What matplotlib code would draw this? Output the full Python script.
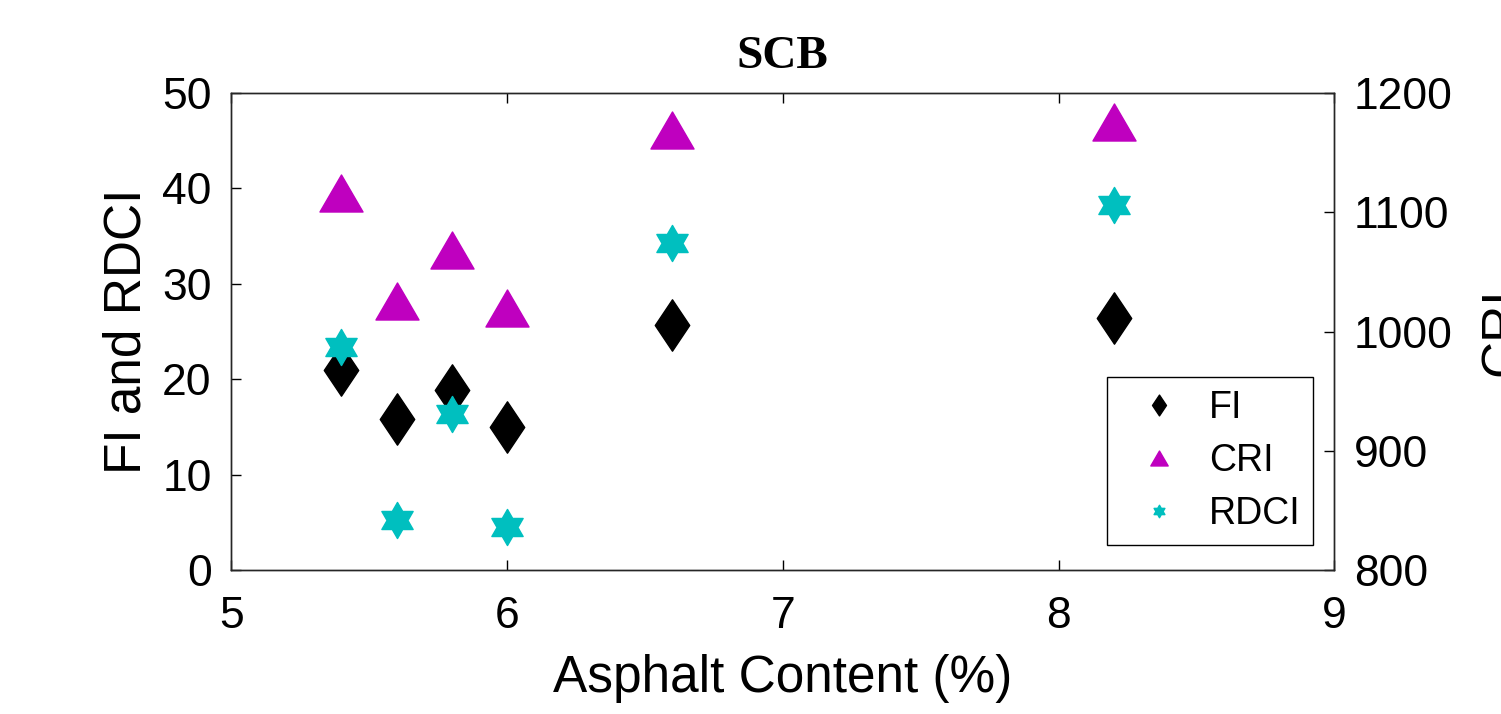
import matplotlib
matplotlib.use("Agg")
import matplotlib.pyplot as plt
from matplotlib.lines import Line2D
from matplotlib.path import Path

# Asphalt content (%) for each mix
asphalt = [5.4, 5.6, 5.8, 6.0, 6.6, 8.2]

# Left axis series
fi = [21.0, 15.8, 18.9, 15.0, 25.7, 26.4]
rdci = [23.4, 5.2, 16.4, 4.5, 34.3, 38.3]

# Right axis series
cri = [1116, 1026, 1068, 1020, 1169, 1176]

x_ticks = [5, 6, 7, 8, 9]
left_ticks = [0, 10, 20, 30, 40, 50]
right_ticks = [800, 900, 1000, 1100, 1200]

plt.rcParams["font.family"] = ["Liberation Sans", "DejaVu Sans"]

BLACK = "#000000"
MAGENTA = "#BF00BF"
CYAN = "#00BFBF"

# MATLAB-like markers: narrow diamond, wide triangle and hexagram
diamond = Path([(0, 1), (0.67, 0), (0, -1), (-0.67, 0), (0, 1)],
               [Path.MOVETO, Path.LINETO, Path.LINETO, Path.LINETO, Path.CLOSEPOLY])
tri = Path([(0, 0.86), (-1, -0.86), (1, -0.86), (0, 0.86)],
           [Path.MOVETO, Path.LINETO, Path.LINETO, Path.CLOSEPOLY])
hexagram = Path.unit_regular_star(6, 0.577)

fig = plt.figure(figsize=(15.01, 7.14), dpi=100)
ax = fig.add_axes([0.154, 0.2017, 0.735, 0.668])
ax2 = ax.twinx()

ax.plot(asphalt, fi, linestyle="none", marker=diamond, ms=37, color=BLACK,
        mec=BLACK, zorder=3)
ax.plot(asphalt, rdci, linestyle="none", marker=hexagram, ms=26, color=CYAN,
        mec=CYAN, zorder=4)
ax2.plot(asphalt, cri, linestyle="none", marker=tri, ms=31, color=MAGENTA,
         mec=MAGENTA)

ax.set_xlim(5, 9)
ax.set_ylim(0, 50)
ax2.set_ylim(800, 1200)
ax.set_xticks(x_ticks)
ax.set_yticks(left_ticks)
ax2.set_yticks(right_ticks)

ax.tick_params(axis="x", direction="in", top=True, length=7.5, width=1,
               labelsize=32, pad=19)
ax.tick_params(axis="y", direction="in", length=7.5, width=1,
               labelsize=32, pad=14)
ax2.tick_params(axis="y", direction="in", length=7.5, width=1,
                labelsize=32, pad=14)

for a in (ax, ax2):
    for sp in a.spines.values():
        sp.set_linewidth(1)
        sp.set_color("#262626")

ax.set_xlabel("Asphalt Content (%)", fontsize=37, labelpad=12)
ax.set_ylabel("FI and RDCI", fontsize=37, labelpad=8)
ax2.set_ylabel("CRI", fontsize=37, labelpad=19)
ax.set_title("SCB", fontsize=34, fontweight="bold",
             family=["Liberation Serif", "DejaVu Serif"], pad=18)

handles = [
    Line2D([], [], linestyle="none", marker=diamond, ms=15, color=BLACK, mec=BLACK),
    Line2D([], [], linestyle="none", marker=tri, ms=12.5, color=MAGENTA, mec=MAGENTA),
    Line2D([], [], linestyle="none", marker=hexagram, ms=9, color=CYAN, mec=CYAN),
]
leg = ax2.legend(handles, ["FI", "CRI", "RDCI"], loc="lower right",
                 bbox_to_anchor=(0.981, 0.052), fontsize=27, frameon=True,
                 fancybox=False, edgecolor=BLACK, framealpha=1,
                 handletextpad=0.27, labelspacing=0.45, borderpad=0.35,
                 handlelength=2.1, borderaxespad=0)
leg.get_frame().set_linewidth(1)

fig.savefig("out.png", dpi=100)
